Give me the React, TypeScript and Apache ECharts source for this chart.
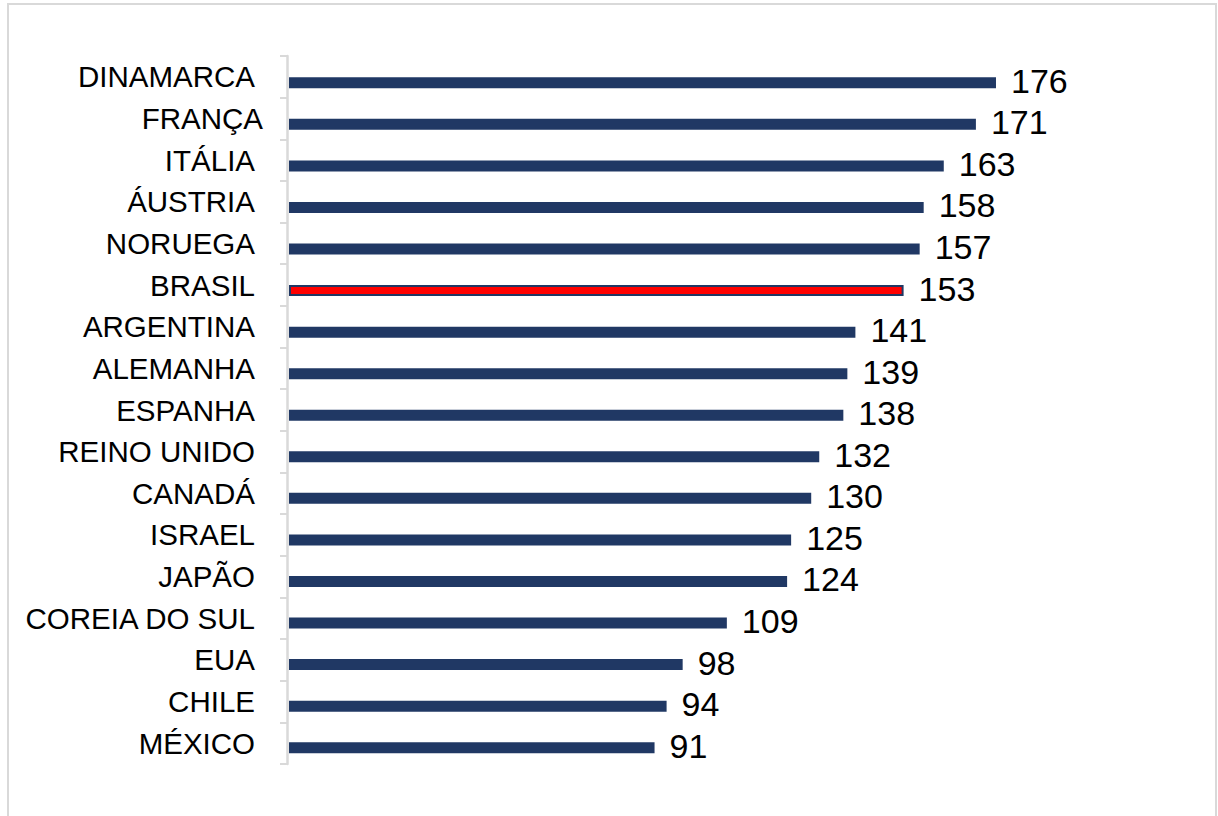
import React, { useEffect, useRef } from "react";
import * as echarts from "echarts";

const categories = [
  "DINAMARCA",
  "FRANÇA",
  "ITÁLIA",
  "ÁUSTRIA",
  "NORUEGA",
  "BRASIL",
  "ARGENTINA",
  "ALEMANHA",
  "ESPANHA",
  "REINO UNIDO",
  "CANADÁ",
  "ISRAEL",
  "JAPÃO",
  "COREIA DO SUL",
  "EUA",
  "CHILE",
  "MÉXICO",
];
const values = [176, 171, 163, 158, 157, 153, 141, 139, 138, 132, 130, 125, 124, 109, 98, 94, 91];
const highlighted = "BRASIL";

const FONT = "'Liberation Sans', Arial, sans-serif";
const NAVY = "#203864";
const GRID_LINE = "#d9d9d9";

export default function App() {
  const ref = useRef<HTMLDivElement>(null);

  useEffect(() => {
    if (!ref.current) return;
    const chart = echarts.init(ref.current, undefined, { renderer: "svg" });

    const axisData = categories.map((c) =>
      c === "FRANÇA" ? { value: c, textStyle: { padding: [0, 0, 7, 0] } } : c
    );

    const barData = categories.map((c, i) =>
      c === highlighted
        ? {
            value: values[i],
            itemStyle: { color: "#ff0000", borderColor: NAVY, borderWidth: 2 },
          }
        : { value: values[i] }
    );

    chart.setOption({
      animation: false,
      backgroundColor: "#ffffff",
      textStyle: { fontFamily: FONT },
      grid: [
        { left: 287, top: 56, width: 800, height: 708 },
        { left: 289, top: 62, width: 803.4, height: 706.5 },
      ],
      xAxis: [
        { gridIndex: 0, type: "value", min: 0, max: 200, show: false },
        { gridIndex: 1, type: "value", min: 0, max: 200, show: false },
      ],
      yAxis: [
        {
          gridIndex: 0,
          type: "category",
          inverse: true,
          data: axisData,
          axisLine: { show: true, lineStyle: { color: GRID_LINE, width: 2.5 } },
          axisTick: { show: true, length: 7, lineStyle: { color: GRID_LINE, width: 2 } },
          splitLine: { show: false },
          axisLabel: {
            fontSize: 29.5,
            color: "#000000",
            fontFamily: FONT,
            margin: 24,
            padding: [0, 8, 7, 0],
          },
        },
        {
          gridIndex: 1,
          type: "category",
          inverse: true,
          data: categories,
          show: false,
        },
      ],
      series: [
        {
          type: "bar",
          xAxisIndex: 1,
          yAxisIndex: 1,
          barWidth: 11,
          itemStyle: { color: NAVY },
          data: barData,
          label: {
            show: true,
            position: "right",
            distance: 15,
            fontSize: 34,
            color: "#000000",
            fontFamily: FONT,
            offset: [0, -2],
          },
        },
      ],
      graphic: [
        {
          type: "rect",
          shape: { x: 8, y: 4, width: 1208, height: 840 },
          style: { fill: "none", stroke: GRID_LINE, lineWidth: 2 },
          silent: true,
        },
      ],
    });

    return () => chart.dispose();
  }, []);

  return (
    <div
      ref={ref}
      style={{ position: "fixed", left: 0, top: 0, width: 1218, height: 816 }}
    />
  );
}
